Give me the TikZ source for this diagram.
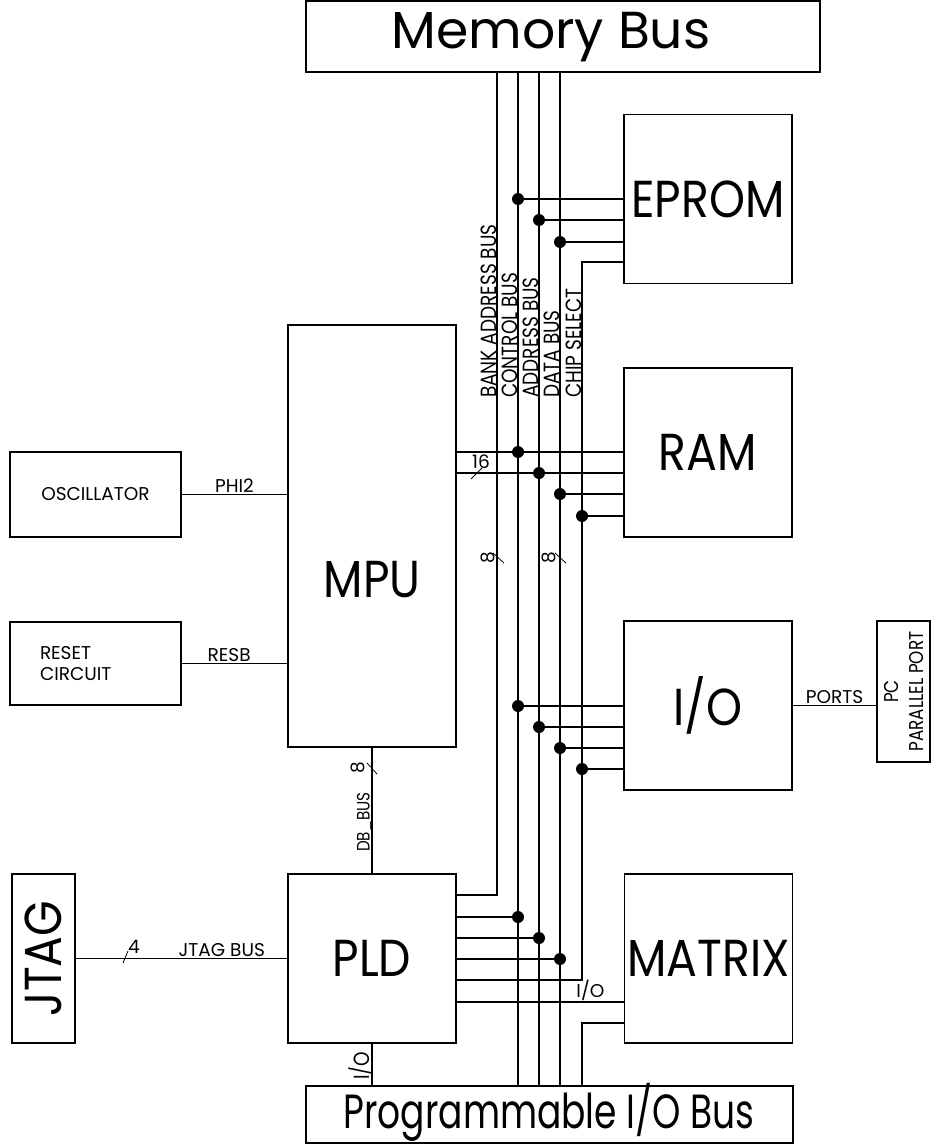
\documentclass[tikz,border=0pt]{standalone}
\usepackage{fontspec}
\setmainfont{Poppins}
\newfontfamily\narrowfont[FakeStretch=0.84]{Poppins}
\newfontfamily\bigfont[FakeStretch=0.88]{Poppins}
\newfontfamily\piofont[FakeStretch=0.75]{Poppins}
\usetikzlibrary{positioning, calc}
\tikzset{
  unit/.style  ={rectangle, draw, line width=1.2pt, inner sep=0pt, align=center},
  bigtxt/.style={font=\bigfont\fontsize{52}{60}\selectfont},
  buslbl/.style={font=\narrowfont\fontsize{22}{25}\selectfont, rotate=90, inner sep=0pt},
  sig/.style   ={font=\fontsize{18.5}{21}\selectfont, inner sep=1pt},
  wire/.style  ={line width=1.2pt},
  bustick/.style={line width=0.8pt},
  junc/.style  ={circle, fill=black, inner sep=0pt, minimum size=12pt},
}
\begin{document}
\begin{tikzpicture}[x=1pt, y=-1pt,
    box/.style={unit, bigtxt, minimum width=168, minimum height=169}
]
\useasboundingbox (0,0) rectangle (931,1145);

% 总线
\node[unit, minimum width=514, minimum height=71] (membus) at (563,36.5) {};
\node[font=\fontsize{52}{60}\selectfont] (memlbl) at (551,37) {Memory Bus};
\node[unit, minimum width=487, minimum height=57] (piobus) at (549.5,1114.5) {};
\node[font=\piofont\fontsize{48}{56}\selectfont, inner sep=0pt] (piolbl) at (549,1112) {Programmable I/O Bus};

% 存储器与外设
\node[box] (eprom) at (708,199) {EPROM};
\node[box] (ram) at (708,452.5) {RAM};
\node[box] (io) at (708,705.5) {I/O};
\node[box] (matrix) at (708.5,958.5) {MATRIX};

% MPU 与 PLD
\node[unit, minimum width=168, minimum height=422] (mpu) at (372,536) {};
\node[bigtxt] (mpulbl) at (372,580) {MPU};
\node[box] (pld) at (372,958.5) {PLD};

% 左侧电路
\node[unit, sig, minimum width=171, minimum height=85] (osc) at (95.5,494.5) {OSCILLATOR};
\node[unit, sig, minimum width=171, minimum height=83, align=left, text width=111] (rst) at (95.5,663.5) {RESET\\CIRCUIT};
\node[unit, bigtxt, rotate=90, minimum width=169, minimum height=63] (jtag) at (43.5,958.5) {JTAG};

% 右侧：PC并口
\node[unit, font=\narrowfont\fontsize{20}{25}\selectfont, rotate=90, minimum width=141, minimum height=53] (pcport) at (903.5,691.5) {PC\\PARALLEL PORT};

% 总线位置
\coordinate (xba) at (497,0);
\coordinate (xcb) at (518,0);
\coordinate (xab) at (539,0);
\coordinate (xdb) at (560,0);
\coordinate (xcs) at (582,0);

% 总线名称
\node[buslbl, anchor=base west] (lblba) at (496,398) {BANK ADDRESS BUS};
\node[buslbl, anchor=base west] (lblcb) at (517,398) {CONTROL BUS};
\node[buslbl, anchor=base west] (lblab) at (538,398) {ADDRESS BUS};
\node[buslbl, anchor=base west] (lbldb) at (559,398) {DATA BUS};
\node[buslbl, anchor=base west] (lblcs) at (581,398) {CHIP SELECT};

% 连接点
\foreach \nm/\xx/\yy in {e1/518/199, e2/539/220, e3/560/242,
                         r1/518/452, r2/539/473, r3/560/494, r4/582/516,
                         i1/518/706, i2/539/727, i3/560/748, i4/582/769,
                         p1/518/917, p2/539/938, p3/560/959}
  \node[junc] (\nm) at (\xx,\yy) {};
\coordinate (pba) at (497,895);
\coordinate (cs1) at (582,262);
\coordinate (cs2) at (582,980);
\coordinate (cs3) at (582,1023);
\coordinate (mio) at (600,1002);

% 纵向总线
\foreach \nm in {cb,ab,db}
  \draw[wire] (membus.south -| x\nm) -- (piobus.north -| x\nm);
\draw[wire] (membus.south -| pba) -- (pba) -- (pba -| pld.east);
\draw[wire] (cs1 -| eprom.west) -- (cs1) -- (cs2) -- (cs2 -| pld.east);
\draw[wire] (cs3 -| matrix.west) -- (cs3) -- (cs3 |- piobus.north);

% 横向连线
\foreach \nm in {e1,e2,e3}
  \draw[wire] (\nm) -- (\nm -| eprom.west);
\foreach \nm in {r1,r2}
  \draw[wire] (\nm -| mpu.east) -- (\nm -| ram.west);
\foreach \nm in {r3,r4}
  \draw[wire] (\nm) -- (\nm -| ram.west);
\foreach \nm in {i1,i2,i3,i4}
  \draw[wire] (\nm) -- (\nm -| io.west);
\foreach \nm in {p1,p2,p3}
  \draw[wire] (\nm -| pld.east) -- (\nm);
\draw[wire] (mio -| pld.east) -- node[sig, above, pos=0.8] (lblmio) {I/O} (mio -| matrix.west);

% 信号线
\draw[wire] (osc.east) -- node[sig, above] (lblphi) {PHI2} (osc.east -| mpu.west);
\draw[wire] (rst.east) -- node[sig, above, pos=0.45] (lblres) {RESB} (rst.east -| mpu.west);
\draw[wire] (jtag.south) -- node[sig, above, pos=0.69] (lbljtag) {JTAG BUS} (pld.west);
\draw[wire] (io.east) -- node[sig, above] (lblport) {PORTS} (io.east -| pcport.north);
\draw[wire] (mpu.south) -- (pld.north);
\draw[wire] (pld.south) -- (pld.south |- piobus.north);
\node[buslbl, font=\narrowfont\fontsize{18}{21}\selectfont, anchor=base west] (lbldbb) at (369.5,852) {DB\_BUS};
\node[buslbl, anchor=base] (lblpio) at (369.5,1066) {I/O};

% 位宽标记
\draw[bustick] (471,479) -- ++(11,-11);
\node[sig] (w16) at (481,462) {16};
\draw[bustick] (493,553) -- ++(11,10);
\node[sig, rotate=90] (w8a) at (488,558) {8};
\draw[bustick] (555,553) -- ++(11,10);
\node[sig, rotate=90] (w8b) at (549,558) {8};
\draw[bustick] (367,763) -- ++(10,11);
\node[sig, rotate=90] (w8c) at (358,768) {8};
\draw[bustick] (123,963) -- ++(5,-12);
\node[sig] (w4) at (134,947) {4};

\end{tikzpicture}
\end{document}
